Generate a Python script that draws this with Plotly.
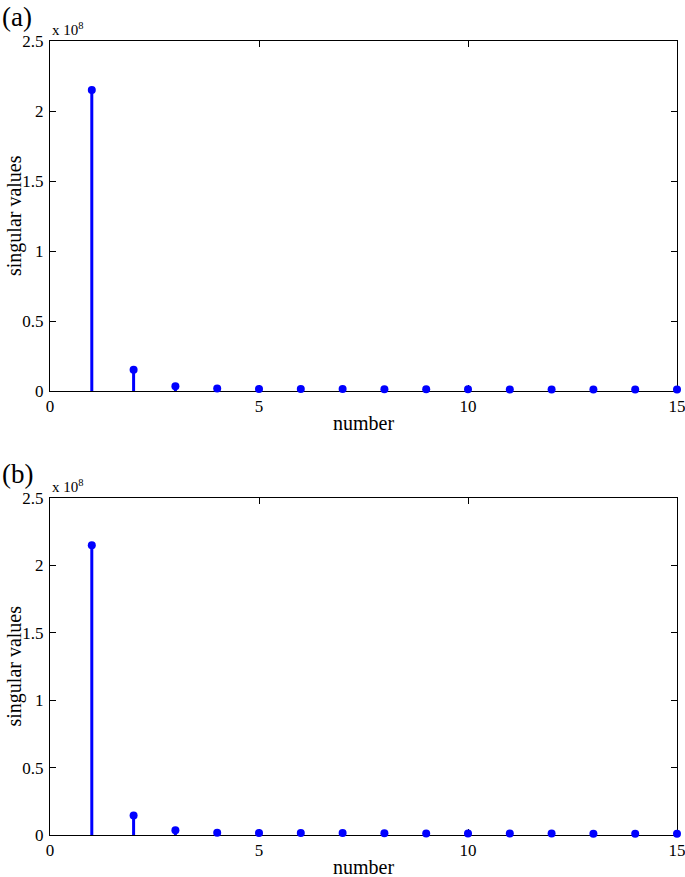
import plotly.graph_objects as go

# Data (singular values, in units of 1e8)
numbers = list(range(1, 16))
values_a = [2.15, 0.152, 0.034, 0.017, 0.015, 0.015, 0.014, 0.013, 0.012, 0.012, 0.011, 0.011, 0.010, 0.010, 0.010]
values_b = [2.15, 0.145, 0.036, 0.017, 0.015, 0.015, 0.014, 0.013, 0.012, 0.012, 0.011, 0.011, 0.010, 0.010, 0.010]
x_ticks = [0, 5, 10, 15]
y_ticks = [0, 0.5, 1, 1.5, 2, 2.5]
y_ticktext = ["0", "0.5", "1", "1.5", "2", "2.5"]

W, H = 685, 877
BLUE = "rgb(0,0,255)"
SERIF = "Liberation Serif, Times New Roman, serif"

def stem_xy(xs, ys):
    sx, sy = [], []
    for x, y in zip(xs, ys):
        sx += [x, x, None]
        sy += [0, y, None]
    return sx, sy

fig = go.Figure()
panels = [("x", "y", values_a), ("x2", "y2", values_b)]
for xa, ya, vals in panels:
    sx, sy = stem_xy(numbers, vals)
    fig.add_trace(go.Scatter(x=sx, y=sy, mode="lines", line=dict(color=BLUE, width=3),
                             xaxis=xa, yaxis=ya, showlegend=False, hoverinfo="skip"))
    fig.add_trace(go.Scatter(x=numbers, y=vals, mode="markers",
                             marker=dict(color=BLUE, size=8),
                             xaxis=xa, yaxis=ya, showlegend=False, cliponaxis=False))

# domains in pixels -> paper
xl, xr = 50, 677
a_top, a_bot = 41, 391
b_top, b_bot = 498, 835

def py(p):
    return 1 - p / H

axis_common = dict(showline=True, linecolor="black", linewidth=1, mirror="ticks",
                   ticks="inside", ticklen=6, tickcolor="black", showgrid=False,
                   zeroline=False, tickfont=dict(family=SERIF, size=17, color="black"),
                   layer="below traces", automargin=False, ticklabeloverflow="allow")

fig.update_layout(
    template="none",
    width=W, height=H, margin=dict(l=0, r=0, t=0, b=0, pad=0),
    plot_bgcolor="white", paper_bgcolor="white",
    xaxis=dict(domain=[xl / W, xr / W], range=[0, 15], tickvals=x_ticks, anchor="y", **axis_common),
    yaxis=dict(domain=[py(a_bot), py(a_top)], range=[0, 2.5], tickvals=y_ticks, ticktext=y_ticktext,
               anchor="x", ticklabelstandoff=2, **axis_common),
    xaxis2=dict(domain=[xl / W, xr / W], range=[0, 15], tickvals=x_ticks, anchor="y2", **axis_common),
    yaxis2=dict(domain=[py(b_bot), py(b_top)], range=[0, 2.5], tickvals=y_ticks, ticktext=y_ticktext,
                anchor="x2", ticklabelstandoff=2, **axis_common),
)

ann = []
for label, top, bot in [("(a)", a_top, a_bot), ("(b)", b_top, b_bot)]:
    ann.append(dict(text=label, x=0, y=py(top - 24), xref="paper", yref="paper",
                    xanchor="left", yanchor="middle", showarrow=False,
                    font=dict(family=SERIF, size=27, color="black")))
    ann.append(dict(text="x 10<sup>8</sup>", x=xl / W, y=py(top - 1), xref="paper", yref="paper",
                    xanchor="left", yanchor="bottom", showarrow=False,
                    font=dict(family=SERIF, size=15, color="black")))
    ann.append(dict(text="singular values", x=14 / W, y=py((top + bot) / 2), xref="paper", yref="paper",
                    xanchor="center", yanchor="middle", textangle=-90, showarrow=False,
                    font=dict(family=SERIF, size=20, color="black")))
    ann.append(dict(text="number", x=(xl + xr) / 2 / W, y=py(bot + 32), xref="paper", yref="paper",
                    xanchor="center", yanchor="middle", showarrow=False,
                    font=dict(family=SERIF, size=20, color="black")))
fig.update_layout(annotations=ann)

fig.write_html("out.html", config={"displayModeBar": False},
               post_script="document.body.style.margin='0';document.body.style.padding='0';")
